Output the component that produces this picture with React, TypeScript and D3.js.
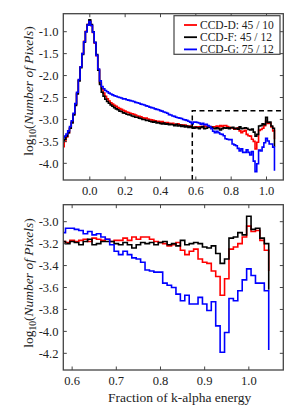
import React from 'react';
import * as d3 from 'd3';

// histogram bins: left edge of the first bin and bin width (fraction of k-alpha)
const binStart = -0.155;
const binWidth = 0.01;

// log10(number of pixels) per bin, last value is where the step ends
const ccdD = [
  -3.62, -3.50, -3.40, -3.30, -3.20, -3.06, -2.88, -2.66, -2.40, -2.10,
  -1.80, -1.50, -1.22, -0.99, -0.84, -0.76, -0.86, -1.02, -1.26, -1.55,
  -1.86, -2.16, -2.30, -2.40, -2.47, -2.53, -2.58, -2.62, -2.65, -2.68,
  -2.70, -2.73, -2.75, -2.77, -2.79, -2.81, -2.83, -2.84, -2.86, -2.87,
  -2.88, -2.90, -2.92, -2.93, -2.94, -2.96, -2.97, -2.97, -2.99, -3.00,
  -3.01, -3.02, -3.03, -3.04, -3.04, -3.06, -3.05, -3.07, -3.08, -3.07,
  -3.09, -3.10, -3.09, -3.11, -3.12, -3.10, -3.13, -3.12, -3.14, -3.13,
  -3.15, -3.16, -3.15,
  -3.18, -3.19, -3.17, -3.18, -3.17, -3.16, -3.18, -3.15, -3.16, -3.17,
  -3.16, -3.18, -3.17, -3.17, -3.15, -3.17, -3.14, -3.16, -3.14, -3.14,
  -3.16, -3.18, -3.19, -3.20, -3.22, -3.21, -3.19, -3.26, -3.30, -3.27,
  -3.25, -3.34, -3.37, -3.38, -3.45, -3.50, -3.67, -3.52, -3.25, -3.23,
  -3.20, -3.14, -3.04, -3.09, -3.08, -3.17, -3.26,
  -3.45,
];

const ccdF = [
  -3.50, -3.45, -3.38, -3.30, -3.20, -3.08, -2.90, -2.68, -2.42, -2.12,
  -1.82, -1.52, -1.24, -1.00, -0.84, -0.73, -0.84, -1.00, -1.24, -1.52,
  -1.88, -2.20, -2.38, -2.47, -2.54, -2.59, -2.63, -2.67, -2.70, -2.73,
  -2.76, -2.78, -2.81, -2.82, -2.85, -2.86, -2.88, -2.89, -2.90, -2.92,
  -2.93, -2.95, -2.95, -2.97, -2.98, -3.00, -3.00, -3.02, -3.02, -3.04,
  -3.05, -3.06, -3.05, -3.08, -3.07, -3.09, -3.10, -3.08, -3.11, -3.10,
  -3.12, -3.11, -3.12, -3.14, -3.11, -3.15, -3.13, -3.16, -3.14, -3.17,
  -3.15, -3.18, -3.16,
  -3.18, -3.20, -3.18, -3.19, -3.21, -3.18, -3.16, -3.21, -3.20, -3.18,
  -3.18, -3.18, -3.20, -3.21, -3.19, -3.21, -3.24, -3.21, -3.19, -3.20,
  -3.19, -3.21, -3.19, -3.18, -3.21, -3.20, -3.22, -3.17, -3.21, -3.20,
  -3.19, -3.20, -3.23, -3.24, -3.22, -3.29, -3.38, -3.34, -3.15, -3.14,
  -3.10, -3.12, -2.95, -3.07, -3.06, -3.15, -3.20,
  -3.62,
];

const ccdG = [
  -3.42, -3.38, -3.33, -3.26, -3.16, -3.03, -2.86, -2.64, -2.38, -2.09,
  -1.80, -1.50, -1.23, -1.00, -0.85, -0.77, -0.86, -1.01, -1.25, -1.54,
  -1.85, -2.12, -2.25, -2.30, -2.34, -2.37, -2.40, -2.42, -2.44, -2.46,
  -2.47, -2.49, -2.50, -2.51, -2.53, -2.53, -2.55, -2.56, -2.57, -2.58,
  -2.59, -2.61, -2.62, -2.63, -2.65, -2.66, -2.67, -2.69, -2.70, -2.72,
  -2.73, -2.74, -2.76, -2.77, -2.78, -2.80, -2.81, -2.83, -2.84, -2.86,
  -2.89, -2.90, -2.92, -2.93, -2.95, -2.96, -2.97, -2.98, -3.00, -3.01,
  -3.02, -3.04, -3.06,
  -3.10, -3.06, -3.06, -3.07, -3.08, -3.11, -3.09, -3.12, -3.11, -3.14,
  -3.16, -3.21, -3.27, -3.30, -3.27, -3.30, -3.33, -3.34, -3.37, -3.44,
  -3.45, -3.46, -3.46, -3.56, -3.58, -3.60, -3.66, -3.72, -3.67, -3.75,
  -3.75, -3.69, -3.75, -3.81, -3.73, -3.95, -4.19, -4.01, -3.70, -3.72,
  -3.63, -3.53, -3.43, -3.49, -3.56, -3.56, -3.63,
  -4.17,
];

const seriesNames = ['CCD-D: 45 / 10', 'CCD-F: 45 / 12', 'CCD-G: 75 / 12'];
const seriesColors = ['#ff0000', '#000000', '#0000ff'];
const seriesValues = [ccdD, ccdF, ccdG];

const topXTicks = [0.0, 0.2, 0.4, 0.6, 0.8, 1.0];
const topYTicks = [-1.0, -1.5, -2.0, -2.5, -3.0, -3.5, -4.0];
const bottomXTicks = [0.6, 0.7, 0.8, 0.9, 1.0];
const bottomYTicks = [-3.0, -3.2, -3.4, -3.6, -3.8, -4.0, -4.2];

// zoom box drawn in the top panel
const zoomX = 0.58;
const zoomY = -2.8;

const FONT = "'Liberation Serif', 'DejaVu Serif', serif";
const FRAME = '#444';

type PanelProps = {
  id: string;
  top: number;
  bottom: number;
  xDomain: [number, number];
  yDomain: [number, number];
  xTicks: number[];
  yTicks: number[];
  ylabelY: number;
  showZoom?: boolean;
  showLegend?: boolean;
};

const left = 63.3;
const right = 283.3;

const Panel = ({ id, top, bottom, xDomain, yDomain, xTicks, yTicks, ylabelY, showZoom, showLegend }: PanelProps) => {
  const x = d3.scaleLinear().domain(xDomain).range([left, right]);
  const y = d3.scaleLinear().domain(yDomain).range([bottom, top]);

  const line = d3.line<number>()
    .x((_, i) => x(binStart + i * binWidth))
    .y(d => y(d))
    .curve(d3.curveStepAfter);

  const tl = 3.5;

  return (
    <g>
      <defs>
        <clipPath id={id}>
          <rect x={left} y={top} width={right - left} height={bottom - top} />
        </clipPath>
      </defs>
      <g clipPath={`url(#${id})`}>
        {seriesValues.map((vals, k) => (
          <path key={k} d={line(vals) || ''} fill="none" stroke={seriesColors[k]}
            strokeWidth={1.6} strokeLinejoin="miter" />
        ))}
        {showZoom && (
          <path
            d={`M${x(zoomX)},${bottom}V${y(zoomY)}H${right}`}
            fill="none" stroke="#000" strokeWidth={1.5} strokeDasharray="5,3.5" />
        )}
      </g>

      {/* ticks on all four sides, pointing inwards */}
      {xTicks.map(t => (
        <g key={'x' + t}>
          <line x1={x(t)} x2={x(t)} y1={bottom} y2={bottom - tl} stroke={FRAME} strokeWidth={1} />
          <line x1={x(t)} x2={x(t)} y1={top} y2={top + tl} stroke={FRAME} strokeWidth={1} />
          <text x={x(t)} y={bottom + 15} textAnchor="middle" fontSize={12.5} fontFamily={FONT} fill="#222">
            {t.toFixed(1)}
          </text>
        </g>
      ))}
      {yTicks.map(t => (
        <g key={'y' + t}>
          <line x1={left} x2={left + tl} y1={y(t)} y2={y(t)} stroke={FRAME} strokeWidth={1} />
          <line x1={right} x2={right - tl} y1={y(t)} y2={y(t)} stroke={FRAME} strokeWidth={1} />
          <text x={58.5} y={y(t) + 4.3} textAnchor="end" fontSize={12.5} fontFamily={FONT} fill="#222">
            {t.toFixed(1)}
          </text>
        </g>
      ))}

      <rect x={left} y={top} width={right - left} height={bottom - top}
        fill="none" stroke={FRAME} strokeWidth={1.3} />

      <text transform={`translate(32.5,${ylabelY}) rotate(-90)`} textAnchor="middle"
        fontSize={13.5} fontFamily={FONT} fill="#222">
        <tspan>log</tspan>
        <tspan fontSize={9.5} dy={3}>10</tspan>
        <tspan dy={-3}>(</tspan>
        <tspan fontStyle="italic">Number of Pixels</tspan>
        <tspan>)</tspan>
      </text>

      {showLegend && (
        <g>
          <rect x={174} y={15.7} width={106} height={38.6} fill="#fff" stroke={FRAME} strokeWidth={1.2} />
          {seriesNames.map((name, k) => (
            <g key={name}>
              <line x1={184} x2={197} y1={25 + k * 12.2} y2={25 + k * 12.2}
                stroke={seriesColors[k]} strokeWidth={1.8} />
              <text x={200} y={25 + k * 12.2 + 3.8} fontSize={11.5} fontFamily={FONT} fill="#222">{name}</text>
            </g>
          ))}
        </g>
      )}
    </g>
  );
};

export default function App() {
  return (
    <svg width={299} height={420} style={{ position: 'absolute', left: 0, top: 0, background: '#fff' }}>
      <Panel id="clipTop" top={13.7} bottom={180} xDomain={[-0.15, 1.095]} yDomain={[-4.38, -0.59]}
        xTicks={topXTicks} yTicks={topYTicks} ylabelY={91} showZoom showLegend />
      <Panel id="clipBottom" top={204.7} bottom={370} xDomain={[0.58, 1.078]} yDomain={[-4.352, -2.845]}
        xTicks={bottomXTicks} yTicks={bottomYTicks} ylabelY={283} />
      <text x={179.7} y={401.5} textAnchor="middle" fontSize={13.5} fontFamily={FONT} fill="#222">
        Fraction of k-alpha energy
      </text>
    </svg>
  );
}
